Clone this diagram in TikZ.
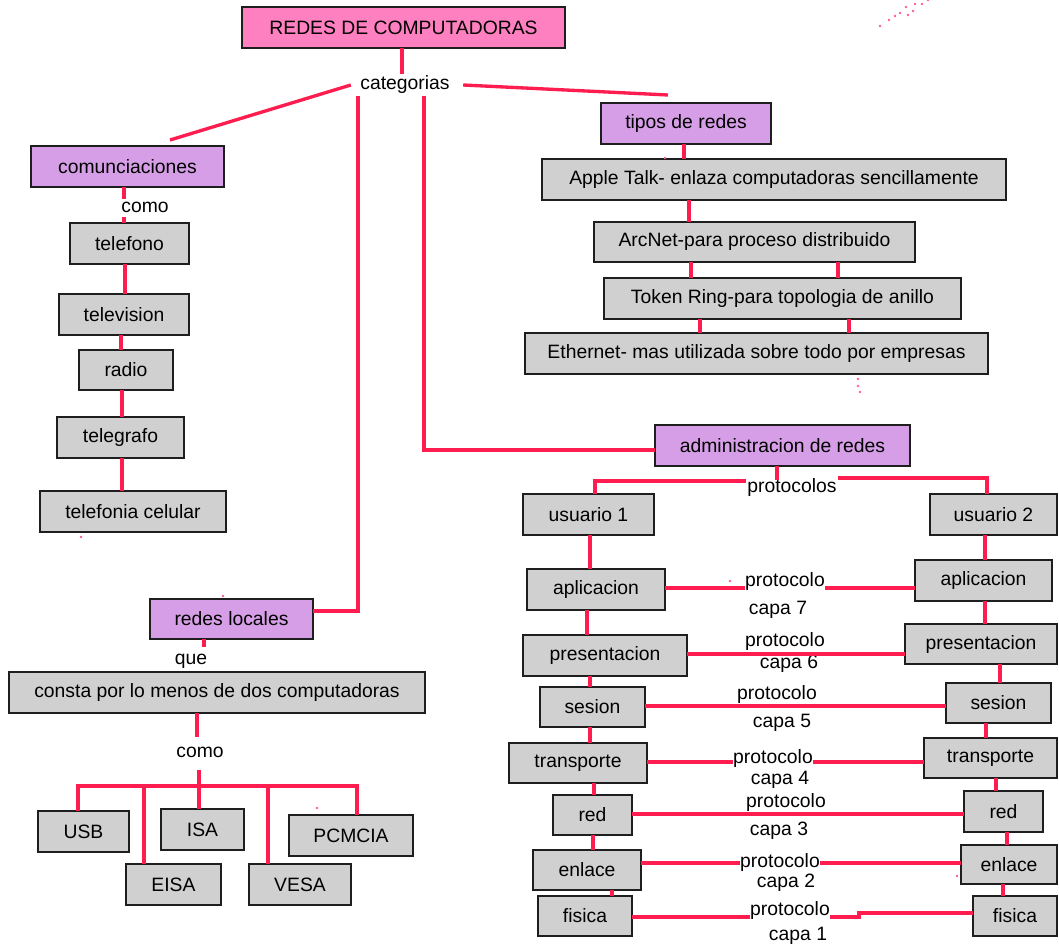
\documentclass[tikz,border=0pt]{standalone}
\usepackage{fontspec}
\setmainfont{Liberation Sans}
\definecolor{titlepink}{RGB}{255,128,192}
\definecolor{catpurple}{RGB}{214,158,230}
\definecolor{boxgrey}{RGB}{208,208,208}
\definecolor{boxline}{RGB}{30,30,30}
\definecolor{linkred}{RGB}{255,28,78}
\definecolor{dotred}{RGB}{255,95,135}
% box from corner (x1,y1) to corner (x2,y2), in pixel units
\newcommand\mkbox[7]{\node[#6, minimum width={(#4-#2)*0.75pt}, minimum height={(#5-#3)*0.75pt}] (#1) at ({(#2+#4)/2},{(#3+#5)/2}) {#7};}
\begin{document}
\begin{tikzpicture}[x=0.75pt,y=-0.75pt,
  every node/.style={font=\fontsize{14.5}{17}\selectfont},
  box/.style={draw=boxline, line width=1.4pt, inner sep=0pt, outer sep=0pt},
  greybox/.style={box, fill=boxgrey},
  catbox/.style={box, fill=catpurple},
  titlebox/.style={box, fill=titlepink},
  lbl/.style={inner sep=1pt},
  cutlbl/.style={inner sep=0.5pt, fill=white},
  link/.style={draw=linkred, line width=2.5pt}]
\useasboundingbox[fill=white] (0,0) rectangle (1059,945);

% ---- boxes ----
\mkbox{title}{242}{7}{565}{48}{titlebox}{REDES DE COMPUTADORAS}
\mkbox{comun}{31}{146}{224}{187}{catbox}{comunciaciones}
\mkbox{tipos}{601}{103}{771}{144}{catbox}{tipos de redes}
\mkbox{apple}{542}{159}{1006}{200}{greybox}{Apple Talk- enlaza computadoras sencillamente}
\mkbox{arcnet}{594}{222}{915}{262}{greybox}{ArcNet-para proceso distribuido}
\mkbox{token}{604}{278}{961}{319}{greybox}{Token Ring-para topologia de anillo}
\mkbox{ether}{525}{333}{988}{374}{greybox}{Ethernet- mas utilizada sobre todo por empresas}
\mkbox{admin}{655}{425}{910}{466}{catbox}{administracion de redes}
\mkbox{telefono}{70}{223}{189}{264}{greybox}{telefono}
\mkbox{telev}{59}{294}{189}{335}{greybox}{television}
\mkbox{radio}{79}{350}{173}{390}{greybox}{radio}
\mkbox{telegr}{57}{417}{184}{458}{greybox}{telegrafo}
\mkbox{celular}{40}{491}{226}{532}{greybox}{telefonia celular}
\mkbox{rl}{150}{599}{313}{639}{catbox}{redes locales}
\mkbox{consta}{9}{672}{425}{713}{greybox}{consta por lo menos de dos computadoras}
\mkbox{usb}{38}{811}{129}{852}{greybox}{USB}
\mkbox{eisa}{126}{864}{221}{905}{greybox}{EISA}
\mkbox{isa}{161}{809}{244}{850}{greybox}{ISA}
\mkbox{vesa}{249}{864}{351}{905}{greybox}{VESA}
\mkbox{pcmcia}{289}{815}{413}{856}{greybox}{PCMCIA}
\mkbox{uA}{523}{494}{654}{535}{greybox}{usuario 1}
\mkbox{uB}{930}{494}{1057}{535}{greybox}{usuario 2}
\mkbox{aplL}{527}{569}{665}{610}{greybox}{aplicacion}
\mkbox{aplR}{915}{560}{1052}{601}{greybox}{aplicacion}
\mkbox{presL}{523}{635}{687}{676}{greybox}{presentacion}
\mkbox{presR}{905}{624}{1057}{664}{greybox}{presentacion}
\mkbox{sesL}{540}{687}{645}{727}{greybox}{sesion}
\mkbox{sesR}{946}{683}{1051}{723}{greybox}{sesion}
\mkbox{trL}{509}{743}{647}{783}{greybox}{transporte}
\mkbox{trR}{924}{738}{1057}{778}{greybox}{transporte}
\mkbox{redL}{553}{795}{632}{835}{greybox}{red}
\mkbox{redR}{964}{791}{1043}{832}{greybox}{red}
\mkbox{enlL}{533}{850}{641}{890}{greybox}{enlace}
\mkbox{enlR}{961}{845}{1057}{884}{greybox}{enlace}
\mkbox{fisL}{538}{896}{632}{936}{greybox}{fisica}
\mkbox{fisR}{973}{896}{1057}{936}{greybox}{fisica}

% ---- linking words ----
\node[lbl] (cat) at (405,85) {categorias};
\node[lbl] (comoA) at (145,207) {como};
\node[lbl] (que) at (191,661) {que};
\node[lbl] (comoB) at (200,752) {como};
\node[lbl] (prots) at (792,487) {protocolos};
\node[lbl] (c7) at (778,610) {capa 7};
\node[lbl] (c6) at (789,664) {capa 6};
\node[lbl] (c5) at (782,723) {capa 5};
\node[lbl] (c4) at (780,780) {capa 4};
\node[lbl] (c3) at (779,831) {capa 3};
\node[lbl] (c2) at (786,883) {capa 2};
\node[lbl] (c1) at (798,936) {capa 1};

% ---- connectors: top level ----
\coordinate (comunTop) at (170,140);
\coordinate (tiposTop) at (668,95);
\draw[link] (title.south -| 402,0) -- (cat.north -| 402,0);
\draw[link] ([xshift=-6pt]cat.west) -- (comunTop);
\draw[link] ([xshift=9pt]cat.east) -- (tiposTop);
\draw[link] (cat.south -| 358,0) |- (rl.east |- 0,611);
\draw[link] (cat.south -| 424,0) |- (admin.west |- 0,450);

% ---- network types ----
\draw[link] (tipos.south -| 684,0) -- (apple.north -| 684,0);
\draw[link] (apple.south -| 689,0) -- (arcnet.north -| 689,0);
\draw[link] (arcnet.south -| 691,0) -- (token.north -| 691,0);
\draw[link] (arcnet.south -| 838,0) -- (token.north -| 838,0);
\draw[link] (token.south -| 700,0) -- (ether.north -| 700,0);
\draw[link] (token.south -| 849,0) -- (ether.north -| 849,0);

% ---- communications ----
\draw[link] (comun.south -| 124,0) -- ([yshift=1pt]comoA.north -| 124,0);
\draw[link] ([yshift=-2pt]comoA.south -| 124,0) -- (telefono.north -| 124,0);
\draw[link] (telefono.south -| 125,0) -- (telev.north -| 125,0);
\draw[link] (telev.south -| 121,0) -- (radio.north -| 121,0);
\draw[link] (radio.south -| 122,0) -- (telegr.north -| 122,0);
\draw[link] (telegr.south -| 122,0) -- (celular.north -| 122,0);

% ---- local networks ----
\coordinate (bus) at (199,786);
\draw[link] (rl.south -| 204,0) -- ([yshift=4pt]que.north -| 204,0);
\draw[link] (consta.south -| 197,0) -- ([yshift=6pt]comoB.north -| 197,0);
\draw[link] ([yshift=-8pt]comoB.south -| 199,0) -- (bus);
\draw[link] (usb.north -| 78,0) |- (bus) -| (pcmcia.north -| 357,0);
\draw[link] (bus -| 144,0) -- (eisa.north -| 144,0);
\draw[link] (bus) -- (isa.north -| 199,0);
\draw[link] (bus -| 268,0) -- (vesa.north -| 268,0);

% ---- network administration ----
\draw[link] (admin.south -| 777,0) -- ([yshift=-3pt]prots.north -| 777,0);
\draw[link] (prots.west |- 0,481) -| (uA.north -| 595,0);
\draw[link] (prots.east |- 0,478) -| (uB.north -| 987,0);

\draw[link] (uA.south -| 590,0) -- (aplL.north -| 590,0);
\draw[link] (aplL.south -| 587,0) -- (presL.north -| 587,0);
\draw[link] (presL.south -| 590,0) -- (sesL.north -| 590,0);
\draw[link] (sesL.south -| 590,0) -- (trL.north -| 590,0);
\draw[link] (trL.south -| 594,0) -- (redL.north -| 594,0);
\draw[link] (redL.south -| 593,0) -- (enlL.north -| 593,0);
\draw[link] (enlL.south -| 612,0) -- (fisL.north -| 612,0);

\draw[link] (uB.south -| 985,0) -- (aplR.north -| 985,0);
\draw[link] (aplR.south -| 985,0) -- (presR.north -| 985,0);
\draw[link] (presR.south -| 1000,0) -- (sesR.north -| 1000,0);
\draw[link] (sesR.south -| 986,0) -- (trR.north -| 986,0);
\draw[link] (trR.south -| 996,0) -- (redR.north -| 996,0);
\draw[link] (redR.south -| 1007,0) -- (enlR.north -| 1007,0);
\draw[link] (enlR.south -| 1003,0) -- (fisR.north -| 1003,0);

% peer-to-peer protocol lines between matching layers
\draw[link] (aplL.east |- 0,588) -- (aplR.west |- 0,588);
\draw[link] (presL.east |- 0,654) -- (presR.west |- 0,654);
\draw[link] (sesL.east |- 0,706) -- (sesR.west |- 0,706);
\draw[link] (trL.east |- 0,762) -- (trR.west |- 0,762);
\draw[link] (redL.east |- 0,814) -- (redR.west |- 0,814);
\draw[link] (enlL.east |- 0,863) -- (enlR.west |- 0,863);
\draw[link] (fisL.east |- 0,917) -- (859,917) -- (859,913) -- (fisR.west |- 0,913);

\node[cutlbl] (p7) at (785,581) {protocolo};
\node[cutlbl] (p6) at (785,641) {protocolo};
\node[cutlbl, inner ysep=0pt] (p5) at (777,694) {protocolo};
\node[cutlbl] (p4) at (773,758) {protocolo};
\node[cutlbl, inner ysep=0pt] (p3) at (786,802) {protocolo};
\node[cutlbl] (p2) at (780,862) {protocolo};
\node[cutlbl] (p1) at (790,910) {protocolo};

% ---- stray pen marks ----
\foreach \p in {(880,26),(889,20),(895,16),(900,13),(906,7),(915,4),(928,0),(908,15),(913,11),(922,4),
                (665,158),(223,596),(81,537),(317,808),(730,581),(957,876),(858,379),(858,386),(860,392)}
  \fill[dotred] \p circle (1.1pt);
\end{tikzpicture}
\end{document}
